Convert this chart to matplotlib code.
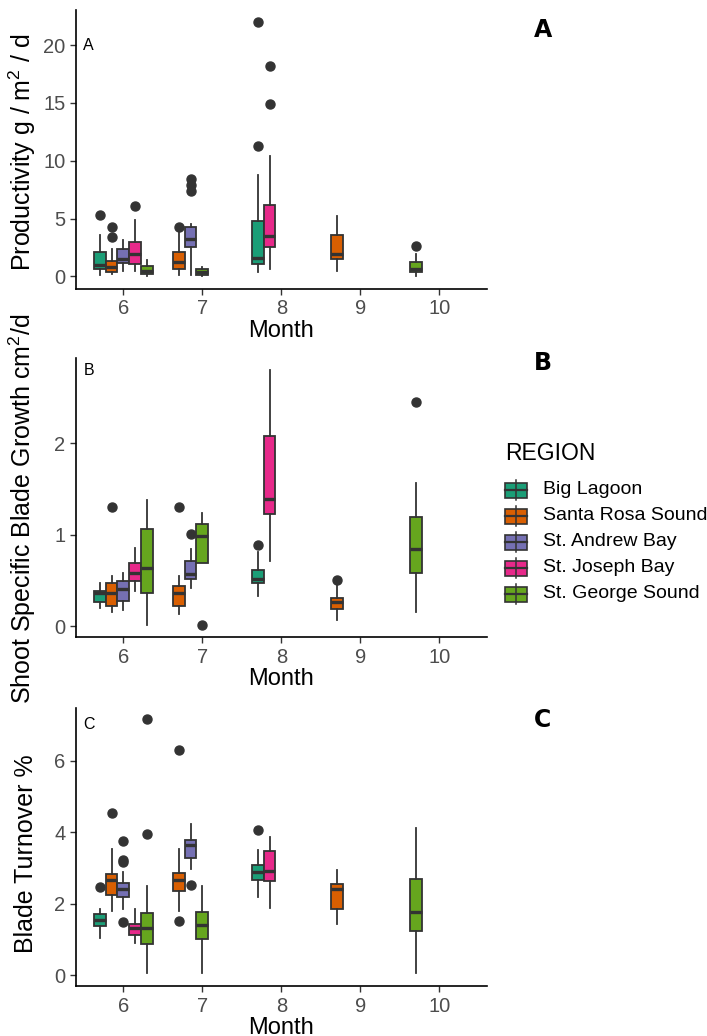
import matplotlib
matplotlib.use("Agg")
import matplotlib.pyplot as plt
from matplotlib.patches import Rectangle

plt.rcParams['font.family'] = ['Liberation Sans', 'DejaVu Sans']
plt.rcParams['mathtext.fontset'] = 'custom'
plt.rcParams['mathtext.rm'] = 'Liberation Sans'
plt.rcParams['mathtext.it'] = 'Liberation Sans'

regions = ["Big Lagoon", "Santa Rosa Sound", "St. Andrew Bay", "St. Joseph Bay", "St. George Sound"]
colors = ["#1B9E77", "#D95F02", "#7570B3", "#E7298A", "#66A61E"]
months = [6, 7, 8, 9, 10]

# one box per (month, region) group, same groups in every panel
group_month = [6, 6, 6, 6, 6, 7, 7, 7, 8, 8, 9, 10]
group_region = [0, 1, 2, 3, 4, 1, 2, 4, 0, 3, 1, 4]

# A: productivity
a_lo = [0.1, 0.23, 0.5, 0.5, 0.0, 0.1, 0.1, 0.0, 0.38, 0.66, 0.5, 0.0]
a_q1 = [0.66, 0.4, 1.15, 1.1, 0.17, 0.63, 2.55, 0.1, 1.07, 2.5, 1.47, 0.38]
a_med = [1.0, 0.8, 1.5, 1.95, 0.5, 1.2, 3.2, 0.4, 1.6, 3.46, 1.95, 0.63]
a_q3 = [2.1, 1.3, 2.35, 3.0, 0.87, 2.1, 4.3, 0.63, 4.75, 6.2, 3.6, 1.27]
a_hi = [3.6, 2.4, 3.1, 4.85, 1.4, 4.0, 4.5, 0.8, 8.75, 10.4, 5.2, 1.96]
a_out = [[5.3], [4.25, 3.4], [], [6.1], [], [4.25], [8.4, 7.9, 7.4], [],
         [22.0, 11.25], [18.15, 14.9], [], [2.6]]

# B: shoot specific blade growth
b_lo = [0.2, 0.16, 0.18, 0.38, 0.01, 0.13, 0.42, 0.69, 0.33, 0.71, 0.07, 0.15]
b_q1 = [0.27, 0.22, 0.28, 0.49, 0.36, 0.22, 0.52, 0.69, 0.47, 1.23, 0.19, 0.58]
b_med = [0.36, 0.36, 0.405, 0.58, 0.635, 0.36, 0.57, 0.99, 0.52, 1.39, 0.27, 0.84]
b_q3 = [0.39, 0.47, 0.49, 0.69, 1.06, 0.44, 0.71, 1.12, 0.62, 2.08, 0.31, 1.19]
b_hi = [0.47, 0.55, 0.58, 0.86, 1.38, 0.55, 0.85, 1.24, 0.81, 2.80, 0.46, 1.57]
b_out = [[], [1.3], [], [], [], [1.3], [1.01], [0.01], [0.89], [], [0.51], [2.45]]

# C: blade turnover
c_lo = [1.04, 1.8, 1.85, 0.89, 0.07, 1.8, 2.98, 0.07, 2.19, 1.89, 1.44, 0.05]
c_q1 = [1.37, 2.23, 2.19, 1.11, 0.87, 2.36, 3.27, 1.0, 2.65, 2.63, 1.86, 1.23]
c_med = [1.54, 2.66, 2.41, 1.33, 1.31, 2.65, 3.65, 1.41, 2.88, 2.9, 2.42, 1.77]
c_q3 = [1.70, 2.84, 2.58, 1.44, 1.75, 2.87, 3.77, 1.78, 3.09, 3.48, 2.56, 2.68]
c_hi = [1.86, 3.52, 2.88, 1.85, 2.5, 3.52, 4.22, 2.5, 3.49, 3.87, 2.94, 4.12]
c_out = [[2.47], [4.52], [3.75, 3.23, 3.16, 1.48], [], [7.16, 3.94], [6.3, 1.51],
         [2.52], [], [4.07], [], [], []]

DARK = "#333333"
BW = 0.15


def positions():
    # dodge, left aligned within each month (like preserve = "single")
    pos = []
    seen = {}
    for m in group_month:
        k = seen.get(m, 0)
        pos.append(m - 0.3 + BW * k)
        seen[m] = k + 1
    return pos


def draw_panel(ax, lo, q1, med, q3, hi, out, ylim, yticks, ylabel, tag, tag_y, label_y):
    stats = []
    for i in range(len(group_month)):
        stats.append(dict(whislo=lo[i], q1=q1[i], med=med[i], q3=q3[i], whishi=hi[i], fliers=out[i]))
    bp = ax.bxp(stats, positions=positions(), widths=BW, patch_artist=True, showcaps=False,
                boxprops=dict(edgecolor=DARK, linewidth=1.3),
                whiskerprops=dict(color=DARK, linewidth=1.3),
                medianprops=dict(color=DARK, linewidth=2.4),
                flierprops=dict(marker='o', markersize=6.5, markerfacecolor=DARK,
                                markeredgecolor=DARK))
    for patch, r in zip(bp['boxes'], group_region):
        patch.set_facecolor(colors[r])
    ax.set_xlim(5.4, 10.6)
    ax.set_ylim(*ylim)
    ax.set_xticks(months)
    ax.set_xticklabels([str(m) for m in months])
    ax.set_yticks(yticks)
    ax.set_yticklabels([str(t) for t in yticks])
    for s in ['top', 'right']:
        ax.spines[s].set_visible(False)
    for s in ['left', 'bottom']:
        ax.spines[s].set_linewidth(1.2)
        ax.spines[s].set_color('black')
    ax.tick_params(labelsize=14.5, labelcolor='#4D4D4D', color=DARK, length=4, width=1)
    ax.set_xlabel("Month", fontsize=17, labelpad=1)
    ax.set_ylabel(ylabel, fontsize=18)
    ax.yaxis.set_label_coords(-0.092, label_y)
    ax.text(5.56, tag_y, tag, fontsize=11.5, ha='center', va='center')


fig = plt.figure(figsize=(7.07, 10.36), dpi=100)
axA = fig.add_axes([0.1075, 0.721, 0.581, 0.269])
axB = fig.add_axes([0.1075, 0.385, 0.581, 0.269])
axC = fig.add_axes([0.1075, 0.048, 0.581, 0.269])

draw_panel(axA, a_lo, a_q1, a_med, a_q3, a_hi, a_out, (-1.1, 23.0), [0, 5, 10, 15, 20],
           "Productivity g / m$^2$ / d", "A", 20, 0.49)
draw_panel(axB, b_lo, b_q1, b_med, b_q3, b_hi, b_out, (-0.12, 2.93), [0, 1, 2],
           "Shoot Specific Blade Growth cm$^2$/d", "B", 2.8, 0.462)
draw_panel(axC, c_lo, c_q1, c_med, c_q3, c_hi, c_out, (-0.31, 7.48), [0, 2, 4, 6],
           "Blade Turnover %", "C", 7.0, 0.477)

for tag, y in [("A", 0.971), ("B", 0.650), ("C", 0.305)]:
    fig.text(0.768, y, tag, fontsize=17, fontweight='bold', family='DejaVu Sans',
             ha='center', va='center')

# legend, drawn in a pixel-space overlay
lax = fig.add_axes([0, 0, 1, 1], facecolor='none')
lax.set_xlim(0, 707)
lax.set_ylim(1036, 0)
lax.axis('off')
lax.text(505, 454, "REGION", fontsize=16.5, ha='left', va='center')
for i, (name, c) in enumerate(zip(regions, colors)):
    yc = 490 + 26 * i
    lax.plot([516, 516], [yc - 10, yc + 10], color=DARK, linewidth=1.1)
    lax.add_patch(Rectangle((505, yc - 7.5), 22, 15, facecolor=c, edgecolor=DARK, linewidth=1.2))
    lax.plot([505, 527], [yc, yc], color=DARK, linewidth=1.6)
    lax.text(543, yc, name, fontsize=14, ha='left', va='center')

fig.savefig("out.png", dpi=100)
